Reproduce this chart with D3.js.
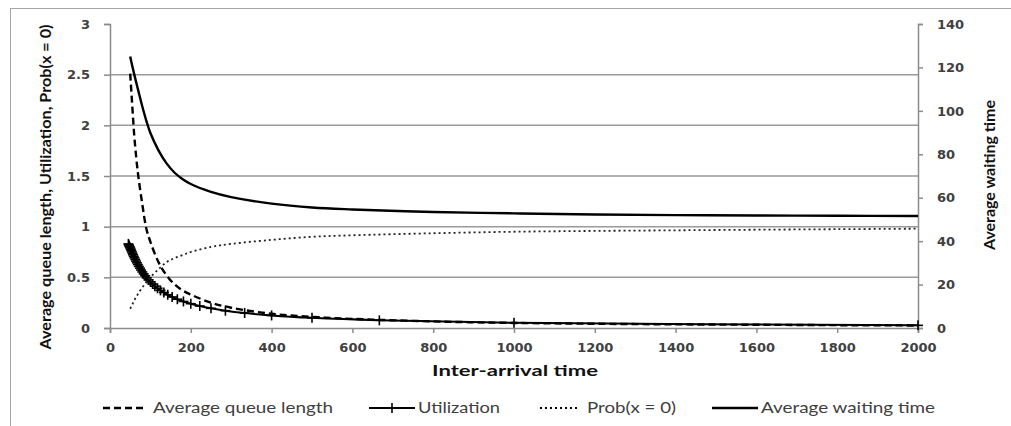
<!DOCTYPE html>
<html>
<head>
<meta charset="utf-8">
<script src="https://cdn.jsdelivr.net/npm/d3@7"></script>
<style>
body { margin: 0; background: #fff; }
svg { display: block; }
</style>
</head>
<body>
<script>
var curveX = [50, 55, 60, 65, 70, 80, 90, 100, 120, 140, 160, 180, 200, 250, 300,
  400, 500, 600, 800, 1000, 1200, 1400, 1600, 1800, 2000];
var queueLength = [2.51, 2.2, 1.9, 1.68, 1.5, 1.22, 0.98, 0.85, 0.65, 0.52, 0.43, 0.37,
  0.33, 0.25, 0.2, 0.14, 0.11, 0.09, 0.065, 0.05, 0.042, 0.036, 0.032, 0.028, 0.025];
var probZero = [0.19, 0.23, 0.27, 0.31, 0.34, 0.4, 0.45, 0.5, 0.58, 0.65, 0.69, 0.72,
  0.75, 0.8, 0.83, 0.87, 0.9, 0.915, 0.935, 0.95, 0.958, 0.964, 0.97, 0.975, 0.98];
var waitTime = [125, 120.8, 116.8, 113, 109.3, 102, 95.4, 89.8, 81.8, 75.8, 71.5, 68.5,
  66.3, 62.7, 60.3, 57.3, 55.5, 54.6, 53.4, 52.8, 52.3, 52, 51.8, 51.7, 51.6];

var utilX = [2000, 1000, 666.7, 500, 400, 333.3, 285.7, 250, 222.2, 200, 181.8, 166.7,
  153.8, 142.9, 133.3, 125, 117.6, 111.1, 105.3, 100, 95.2, 90.9, 87, 83.3, 80, 76.9,
  74.1, 71.4, 69, 66.7, 64.5, 62.5, 60.6, 58.8, 57.1, 55.6, 54.1, 52.6, 51.3, 50, 48.8,
  47.6, 46.5, 45.5];
var utilization = [0.026, 0.051, 0.076, 0.1, 0.124, 0.148, 0.171, 0.194, 0.217, 0.24,
  0.262, 0.284, 0.306, 0.328, 0.35, 0.371, 0.392, 0.413, 0.434, 0.455, 0.475, 0.495,
  0.515, 0.534, 0.553, 0.572, 0.59, 0.608, 0.626, 0.643, 0.66, 0.676, 0.692, 0.707,
  0.722, 0.737, 0.751, 0.765, 0.778, 0.79, 0.8, 0.81, 0.82, 0.83];

var xTicks = [0, 200, 400, 600, 800, 1000, 1200, 1400, 1600, 1800, 2000];
var leftTicks = [0, 0.5, 1, 1.5, 2, 2.5, 3];
var rightTicks = [0, 20, 40, 60, 80, 100, 120, 140];
var legendNames = ["Average queue length", "Utilization", "Prob(x = 0)", "Average waiting time"];

var width = 1011, height = 426;
var plot = { left: 110, right: 918, top: 24, bottom: 328 };

var svg = d3.select("body").append("svg")
  .attr("width", width)
  .attr("height", height);

svg.append("rect")
  .attr("x", 10.5).attr("y", 8.5)
  .attr("width", 1010).attr("height", 430)
  .attr("fill", "none")
  .attr("stroke", "#a6a6a6");

var x = d3.scaleLinear().domain([0, 2000]).range([plot.left, plot.right]);
var yL = d3.scaleLinear().domain([0, 3]).range([plot.bottom, plot.top]);
var yR = d3.scaleLinear().domain([0, 140]).range([plot.bottom, plot.top]);

svg.append("g")
  .selectAll("line")
  .data(leftTicks.filter(function(d) { return d > 0 && d < 3; }))
  .enter().append("line")
  .attr("x1", plot.left).attr("x2", plot.right)
  .attr("y1", function(d) { return yL(d); })
  .attr("y2", function(d) { return yL(d); })
  .attr("stroke", "#9a9a9a")
  .attr("stroke-width", 1.5);

var tickFont = "'DejaVu Sans', sans-serif";
var labelColor = "#404040";

function styleAxis(g) {
  g.select(".domain").attr("stroke", "#8c8c8c").attr("stroke-width", 1.5);
  g.selectAll(".tick line").attr("stroke", "#8c8c8c").attr("stroke-width", 1.5);
  g.selectAll(".tick text")
    .attr("fill", labelColor)
    .style("font-family", tickFont)
    .style("font-size", "13px")
    .style("font-weight", "bold");
}

svg.append("g")
  .attr("transform", "translate(0," + plot.bottom + ")")
  .call(d3.axisBottom(x).tickValues(xTicks).tickSizeOuter(0).tickSize(5).tickPadding(10)
    .tickFormat(d3.format("d")))
  .call(styleAxis);

svg.append("g")
  .attr("transform", "translate(" + plot.left + ",0)")
  .call(d3.axisLeft(yL).tickValues(leftTicks).tickSizeOuter(0).tickSize(6).tickPadding(14)
    .tickFormat(d3.format("")))
  .call(styleAxis);

svg.append("g")
  .attr("transform", "translate(" + plot.right + ",0)")
  .call(d3.axisRight(yR).tickValues(rightTicks).tickSizeOuter(0).tickSize(5).tickPadding(14))
  .call(styleAxis);

var lineL = d3.line()
  .x(function(d) { return x(d[0]); })
  .y(function(d) { return yL(d[1]); })
  .curve(d3.curveCatmullRom.alpha(0.5));

var lineR = d3.line()
  .x(function(d) { return x(d[0]); })
  .y(function(d) { return yR(d[1]); })
  .curve(d3.curveCatmullRom.alpha(0.5));

function pairs(xs, ys) {
  return xs.map(function(v, i) { return [v, ys[i]]; });
}

var utilData = pairs(utilX, utilization).sort(function(a, b) { return a[0] - b[0]; });

svg.append("path")
  .attr("d", lineL(utilData))
  .attr("fill", "none")
  .attr("stroke", "#000")
  .attr("stroke-width", 2);

var marks = svg.append("g").selectAll("g")
  .data(utilData)
  .enter().append("g")
  .attr("transform", function(d) { return "translate(" + x(d[0]) + "," + yL(d[1]) + ")"; });
marks.append("line").attr("x1", 0).attr("x2", 0).attr("y1", -5).attr("y2", 5)
  .attr("stroke", "#000").attr("stroke-width", 1.6);
marks.append("line").attr("x1", -5).attr("x2", 5).attr("y1", 0).attr("y2", 0)
  .attr("stroke", "#000").attr("stroke-width", 1.6);

svg.append("path")
  .attr("d", lineL(pairs(curveX, queueLength)))
  .attr("fill", "none")
  .attr("stroke", "#000")
  .attr("stroke-width", 2.4)
  .attr("stroke-dasharray", "7,4");

svg.append("path")
  .attr("d", lineL(pairs(curveX, probZero)))
  .attr("fill", "none")
  .attr("stroke", "#222")
  .attr("stroke-width", 1.8)
  .attr("stroke-dasharray", "2,3");

svg.append("path")
  .attr("d", lineR(pairs(curveX, waitTime)))
  .attr("fill", "none")
  .attr("stroke", "#000")
  .attr("stroke-width", 2.4);

var titleFont = "Lato, 'Open Sans', sans-serif";

svg.append("text")
  .attr("x", 515).attr("y", 376)
  .attr("text-anchor", "middle")
  .attr("textLength", 166)
  .attr("lengthAdjust", "spacingAndGlyphs")
  .style("font-family", titleFont)
  .style("font-size", "16px")
  .style("font-weight", "bold")
  .attr("fill", "#111")
  .text("Inter-arrival time");

svg.append("text")
  .attr("transform", "translate(51,187) rotate(-90)")
  .attr("text-anchor", "middle")
  .attr("textLength", 325)
  .attr("lengthAdjust", "spacingAndGlyphs")
  .style("font-family", titleFont)
  .style("font-size", "15px")
  .style("font-weight", "bold")
  .attr("fill", "#111")
  .text("Average queue length, Utilization, Prob(x = 0)");

svg.append("text")
  .attr("transform", "translate(995,175) rotate(-90)")
  .attr("text-anchor", "middle")
  .attr("textLength", 150)
  .attr("lengthAdjust", "spacingAndGlyphs")
  .style("font-family", titleFont)
  .style("font-size", "15px")
  .style("font-weight", "bold")
  .attr("fill", "#111")
  .text("Average waiting time");

var legendItems = [
  { line: [103, 143], text: 153, len: 180, dash: "7,4", sw: 2.4, cross: false },
  { line: [369, 415], text: 418, len: 82, dash: null, sw: 2, cross: true },
  { line: [540, 577], text: 587, len: 89, dash: "2,3", sw: 1.8, cross: false },
  { line: [712, 758], text: 761, len: 174, dash: null, sw: 2.4, cross: false }
];

var legend = svg.append("g").selectAll("g")
  .data(legendItems)
  .enter().append("g");

legend.append("line")
  .attr("x1", function(d) { return d.line[0]; })
  .attr("x2", function(d) { return d.line[1]; })
  .attr("y1", 408).attr("y2", 408)
  .attr("stroke", "#000")
  .attr("stroke-width", function(d) { return d.sw; })
  .attr("stroke-dasharray", function(d) { return d.dash; });

legend.filter(function(d) { return d.cross; })
  .append("line")
  .attr("x1", function(d) { return (d.line[0] + d.line[1]) / 2; })
  .attr("x2", function(d) { return (d.line[0] + d.line[1]) / 2; })
  .attr("y1", 403).attr("y2", 413)
  .attr("stroke", "#000")
  .attr("stroke-width", 1.6);

legend.append("text")
  .attr("x", function(d) { return d.text; })
  .attr("y", 413)
  .attr("textLength", function(d) { return d.len; })
  .attr("lengthAdjust", "spacingAndGlyphs")
  .style("font-family", titleFont)
  .style("font-size", "15px")
  .attr("fill", labelColor)
  .text(function(d, i) { return legendNames[i]; });
</script>
</body>
</html>
